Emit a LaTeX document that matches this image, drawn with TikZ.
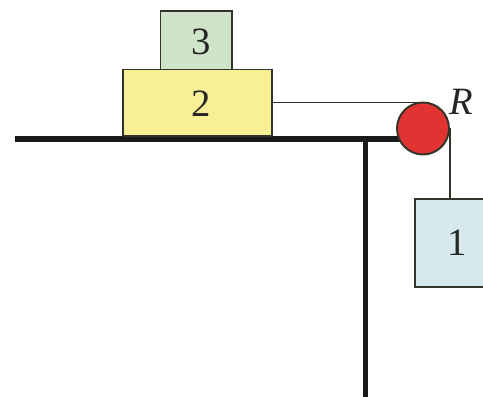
\documentclass[tikz,border=0pt]{standalone}
\usepackage{fontspec}
\setmainfont{Liberation Serif}
\definecolor{bloc1}{HTML}{D6E9EE}
\definecolor{bloc2}{HTML}{F8F095}
\definecolor{bloc3}{HTML}{D0E4CA}
\definecolor{poulie}{HTML}{E03332}
\definecolor{bord}{HTML}{33332A}

\begin{document}
\begin{tikzpicture}
  \tikzstyle{bloc}=[draw=bord, line width=1.1pt, inner sep=0];
  \tikzstyle{chiffre}=[inner sep=0, text=black!85, font=\fontsize{22}{22}\selectfont];
  \tikzstyle{corde}=[draw=bord, line width=0.8pt];
  \tikzstyle{massif}=[line width=0.12cm, black!90];

  \clip (0,0) rectangle (9.66,7.94);

  \coordinate (T1) at (0.30,5.16);
  \coordinate (T2) at (8.46,5.16);
  \coordinate (P1) at (7.31,5.16);
  \coordinate (P2) at (7.31,0);

  \draw[massif] (T1) -- (T2);
  \draw[massif] (P1) -- (P2);

  \node[bloc, fill=bloc1, minimum width=1.68cm, minimum height=1.76cm] (bloc1) at (9.14,3.08) {};
  \node[bloc, fill=bloc3, minimum width=1.43cm, minimum height=1.17cm] (bloc3) at (3.925,7.135) {};
  \node[bloc, fill=bloc2, minimum width=2.98cm, minimum height=1.33cm] (bloc2) at (3.95,5.885) {};
  \node[circle, draw=bord, line width=1.1pt, fill=poulie, minimum size=1.04cm, inner sep=0] (R) at (8.46,5.37) {};

  \draw[corde] (bloc2.east) -- (bloc2.east -| R.north) -- (R.north);
  \draw[corde] (R.east) -- (R.east |- bloc1.north);

  \node[chiffre] (n1) at (9.14,3.08) {1};
  \node[chiffre] (n2) at (4.02,5.86) {2};
  \node[chiffre] (n3) at (4.02,7.11) {3};
  \node[chiffre] (nR) at (9.22,5.90) {\textit{R}};
\end{tikzpicture}
\end{document}
